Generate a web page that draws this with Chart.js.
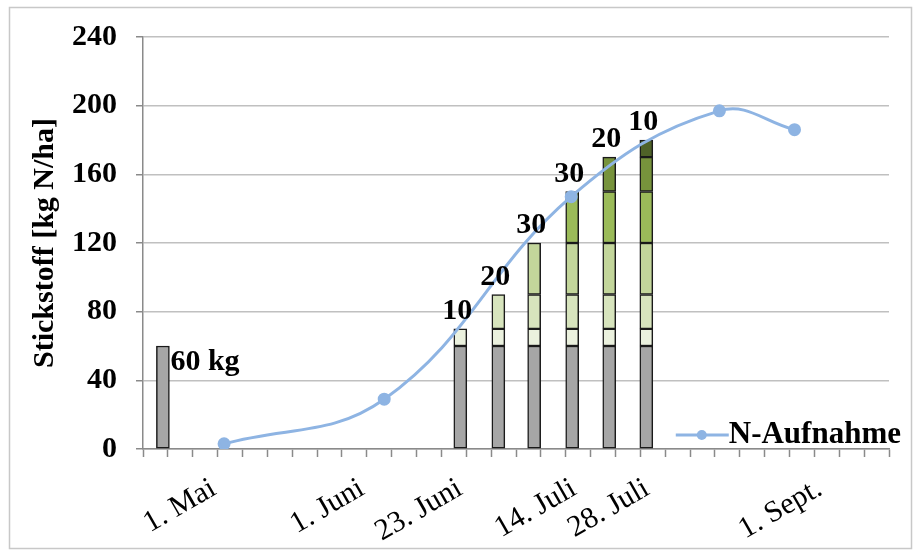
<!DOCTYPE html>
<html>
<head>
<meta charset="utf-8">
<script src="https://cdn.jsdelivr.net/npm/chart.js@4/dist/chart.umd.min.js"></script>
<style>
  body { margin: 0; background: #fff; }
  #wrap { width: 919px; height: 552px; position: relative; }
</style>
</head>
<body>
<div id="wrap"><canvas id="chart"></canvas></div>
<script>
// bar positions along the axis (axis is divided into 30 tick steps)
const barPos = [0.8, 12.76, 14.29, 15.73, 17.26, 18.75, 20.24]
// fertiliser portions, stacked
const base = [60, 60, 60, 60, 60, 60, 60]
const dose1 = [null, 10, 10, 10, 10, 10, 10]
const dose2 = [null, null, 20, 20, 20, 20, 20]
const dose3 = [null, null, null, 30, 30, 30, 30]
const dose4 = [null, null, null, null, 30, 30, 30]
const dose5 = [null, null, null, null, null, 20, 20]
const dose6 = [null, null, null, null, null, null, 10]
const barNotes = ['60 kg', '10', '20', '30', '30', '20', '10']

// N uptake curve
const uptakePos = [3.26, 9.70, 17.22, 23.18, 26.2]
const uptake = [3, 29, 147, 197, 186]

// date labels on the axis
const datePos = [2.85, 8.81, 12.75, 17.33, 20.27, 27.22]
const dateLabels = ['1. Mai', '1. Juni', '23. Juni', '14. Juli', '28. Juli', '1. Sept.']

const serif = 'Liberation Serif'
const doseColors = ['#a6a6a6', '#ebf1de', '#d7e4bd', '#c3d69b', '#9bbb59', '#77933c', '#4f6228']

const toPoints = (xs, ys) => xs.map((x, i) => ({ x: x, y: ys[i] }))

const barSet = (values, color) => ({
	type: 'bar',
	label: '',
	data: toPoints(barPos, values),
	backgroundColor: color,
	borderColor: '#1a1a1a',
	borderWidth: 1.5,
	borderSkipped: false,
	barThickness: 13,
	stack: 'dung'
})

const frame = {
	id: 'frame',
	beforeDraw(chart) {
		const ctx = chart.ctx
		ctx.save()
		ctx.fillStyle = '#fff'
		ctx.fillRect(0, 0, chart.width, chart.height)
		ctx.strokeStyle = '#c8c8c8'
		ctx.lineWidth = 1.5
		ctx.strokeRect(9.5, 7.5, 902, 541)
		ctx.restore()
	}
}

const barText = {
	id: 'barText',
	afterDatasetsDraw(chart) {
		const ctx = chart.ctx
		ctx.save()
		ctx.font = 'bold 30px "' + serif + '"'
		ctx.fillStyle = '#000'
		const bars = chart.data.datasets
			.map((ds, i) => i)
			.filter(i => chart.data.datasets[i].type === 'bar')
		barPos.forEach((p, j) => {
			let top = null
			bars.forEach(i => {
				if (chart.data.datasets[i].data[j].y != null) top = chart.getDatasetMeta(i).data[j]
			})
			if (!top) return
			if (j === 0) {
				ctx.textAlign = 'left'
				ctx.textBaseline = 'top'
				ctx.fillText(barNotes[j], top.x + top.width / 2 + 1, top.y + 1)
			} else {
				ctx.textAlign = 'center'
				ctx.textBaseline = 'alphabetic'
				ctx.fillText(barNotes[j], top.x - 3, top.y - 10)
			}
		})
		ctx.restore()
	}
}

const legendBox = {
	id: 'legendBox',
	afterDraw(chart) {
		const ctx = chart.ctx
		const area = chart.chartArea
		const ds = chart.data.datasets[0]
		ctx.save()
		ctx.font = 'bold 31px "' + serif + '"'
		const w = ctx.measureText(ds.label).width
		const tx = area.right + 12 - w
		const ty = area.bottom - 6
		ctx.strokeStyle = ds.borderColor
		ctx.lineWidth = 3
		ctx.beginPath()
		ctx.moveTo(tx - 53, ty - 8)
		ctx.lineTo(tx, ty - 8)
		ctx.stroke()
		ctx.fillStyle = ds.borderColor
		ctx.beginPath()
		ctx.arc(tx - 27, ty - 8, 5, 0, Math.PI * 2)
		ctx.fill()
		ctx.fillStyle = '#000'
		ctx.textBaseline = 'alphabetic'
		ctx.fillText(ds.label, tx, ty)
		ctx.restore()
	}
}

const datasets = [
	{
		type: 'line',
		label: 'N-Aufnahme',
		data: toPoints(uptakePos, uptake),
		borderColor: '#8eb4e3',
		backgroundColor: '#8eb4e3',
		borderWidth: 3,
		pointRadius: 5,
		pointHoverRadius: 5,
		tension: 0.4,
		stack: 'line'
	},
	barSet(base, doseColors[0]),
	barSet(dose1, doseColors[1]),
	barSet(dose2, doseColors[2]),
	barSet(dose3, doseColors[3]),
	barSet(dose4, doseColors[4]),
	barSet(dose5, doseColors[5]),
	barSet(dose6, doseColors[6])
]

new Chart(document.getElementById('chart'), {
	data: { datasets: datasets },
	options: {
		responsive: true,
		maintainAspectRatio: false,
		animation: false,
		devicePixelRatio: 1,
		layout: { padding: { left: 0, top: 37, right: 30, bottom: 0 } },
		plugins: {
			legend: { display: false },
			tooltip: { enabled: false }
		},
		scales: {
			x: {
				type: 'linear',
				min: 0,
				max: 30,
				offset: false,
				stacked: true,
				weight: 0,
				afterBuildTicks: axis => {
					axis.ticks = Array.from({ length: 31 }, (_, i) => ({ value: i }))
				},
				ticks: { display: false },
				grid: {
					offset: false,
					drawOnChartArea: false,
					tickLength: 8,
					tickColor: '#8a8a8a',
					tickWidth: 1.5
				},
				border: { color: '#8a8a8a', width: 1.5 }
			},
			x2: {
				type: 'linear',
				position: 'bottom',
				min: 0,
				max: 30,
				offset: false,
				weight: 1,
				afterBuildTicks: axis => {
					axis.ticks = datePos.map(v => ({ value: v }))
				},
				afterFit: axis => { axis.height = 95 },
				ticks: {
					autoSkip: false,
					minRotation: 30,
					maxRotation: 30,
					padding: 14,
					color: '#000',
					font: { family: serif, size: 30 },
					callback: (v, i) => dateLabels[i]
				},
				grid: { display: false, drawTicks: false },
				border: { display: false }
			},
			y: {
				stacked: true,
				min: 0,
				max: 240,
				afterFit: axis => { axis.width = 143 },
				ticks: {
					stepSize: 20,
					padding: 19,
					color: '#000',
					font: { family: serif, size: 30, weight: 'bold' },
					callback: v => (v % 40 === 0 ? v : '')
				},
				grid: {
					color: '#c0c0c0',
					lineWidth: 1.5,
					tickLength: 7,
					tickColor: '#8a8a8a'
				},
				border: { color: '#8a8a8a', width: 1.5 },
				title: {
					display: true,
					text: 'Stickstoff [kg N/ha]',
					color: '#000',
					padding: { top: 27, bottom: 0 },
					font: { family: serif, size: 30, weight: 'bold' }
				}
			}
		}
	},
	plugins: [frame, barText, legendBox]
})
</script>
</body>
</html>
